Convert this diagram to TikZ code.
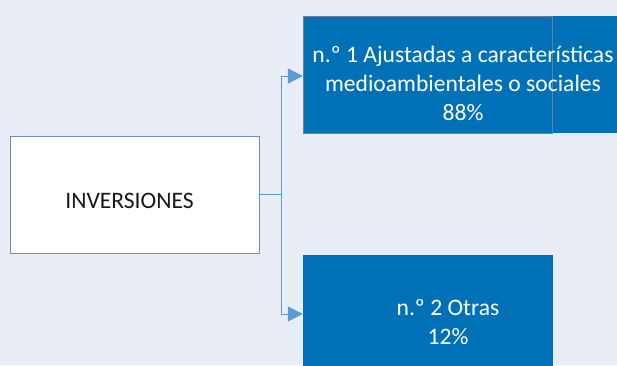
\documentclass[tikz,border=0pt]{standalone}
\usepackage{fontspec}
\setmainfont{Carlito}
\usetikzlibrary{arrows.meta}
\definecolor{bgc}{HTML}{E9EDF5}
\definecolor{boxblue}{HTML}{0071B7}
\definecolor{linkc}{HTML}{5B9BD5}
\definecolor{invborder}{HTML}{6C8EBF}
\definecolor{outlinec}{HTML}{6A7F9A}
\tikzset{
  bluebox/.style={rectangle, fill=boxblue, draw=none, inner sep=0pt},
  whitebox/.style={rectangle, fill=white, draw=invborder, line width=0.9pt, inner sep=0pt},
  bluetext/.style={text=white, align=center, inner sep=0pt, font=\fontsize{23.6}{29}\selectfont},
  darktext/.style={text=black!90, inner sep=0pt, font=\fontsize{23.6}{29}\selectfont},
  link/.style={draw=linkc, line width=1pt},
  linkarrow/.style={link, -{Triangle[length=15pt, width=15pt]}}
}
\begin{document}
\begin{tikzpicture}[x=1pt, y=-1pt]
  \useasboundingbox (0,0) rectangle (617,365);
  \clip (0,0) rectangle (617,365);
  \fill[bgc] (0,0) rectangle (617,365);
  % boxes
  \node[bluebox, minimum width=314pt, minimum height=117pt] (b1) at (460,74.5) {};
  \draw[outlinec, line width=0.8pt] (303,16) rectangle (552,133);
  \node[bluebox, minimum width=250pt, minimum height=118pt] (b2) at (428,314) {};
  \node[whitebox, minimum width=249pt, minimum height=117pt] (inv) at (134.5,194.5) {};
  % texts
  \node[bluetext] (t1) at (463,83) {n.º 1 Ajustadas a características\\medioambientales o sociales\\88\%};
  \node[bluetext] (t2) at (448,322) {n.º 2 Otras\\12\%};
  \node[darktext] (t0) at (129.5,200.7) {INVERSIONES};
  % connectors
  \coordinate (j) at (281,194.5);
  \draw[link] (inv.east) -- (j);
  \draw[linkarrow] (j) |- (b1.west |- 0,76);
  \draw[linkarrow] (j) |- (b2.west);
\end{tikzpicture}
\end{document}
